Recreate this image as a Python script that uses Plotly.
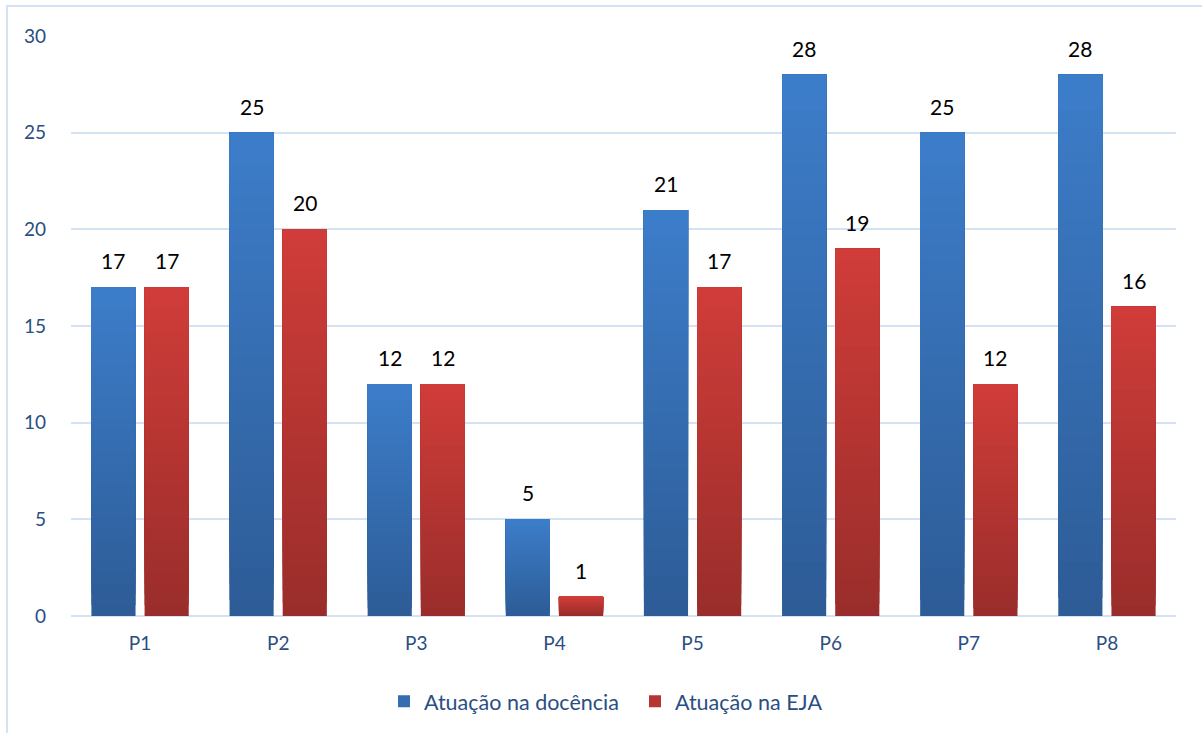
import plotly.graph_objects as go

categories = ["P1", "P2", "P3", "P4", "P5", "P6", "P7", "P8"]
docencia = [17, 25, 12, 5, 21, 28, 25, 28]
eja = [17, 20, 12, 1, 17, 19, 12, 16]
series_names = ["Atuação na docência", "Atuação na EJA"]
y_ticks = [0, 5, 10, 15, 20, 25, 30]

W, H = 1202, 733
ml, mr, mt, mb = 71, 26, 36, 116
# gradient colours (bottom, top) for each series
blue_grad = ((0x2D, 0x5C, 0x97), (0x3D, 0x7E, 0xCB))
red_grad = ((0x9A, 0x2D, 0x2B), (0xD1, 0x3D, 0x39))
tick_color = "#2A4E82"
grid_color = "#D5E2F3"
font_family = "Lato, 'Open Sans', sans-serif"
N = 30  # gradient steps


def mix(c0, c1, t):
    return "rgb(%d,%d,%d)" % tuple(round(a + (b - a) * t) for a, b in zip(c0, c1))


fig = go.Figure()
for name, vals, grad, grp in ((series_names[0], docencia, blue_grad, "a"),
                              (series_names[1], eja, red_grad, "b")):
    for k in range(N):
        frac = k / N
        base = [v * frac for v in vals]
        height = [v - b for v, b in zip(vals, base)]
        fig.add_trace(go.Bar(
            x=categories, y=height, base=base, name=name,
            offsetgroup=grp, legendgroup=grp,
            showlegend=(k == N // 2),
            marker=dict(color=mix(grad[0], grad[1], frac), line=dict(width=0)),
            hoverinfo="skip" if k else None,
        ))

bargap = 0.23
bargroupgap = 0.17
plot_w = W - ml - mr
cat_w = plot_w / len(categories)
slot = cat_w * (1 - bargap) / 2
shift = slot / 2

for vals, sgn in ((docencia, -1), (eja, 1)):
    for c, v in zip(categories, vals):
        fig.add_annotation(x=c, y=v, text=str(v), showarrow=False,
                           xshift=sgn * shift, yanchor="bottom", yshift=12,
                           font=dict(size=21, color="#000000", family=font_family))

# outer chart border (partially cut off like the reference)
plot_h = H - mt - mb
fig.add_shape(type="rect", xref="paper", yref="paper",
              x0=(7 - ml) / plot_w, x1=(W + 20 - ml) / plot_w,
              y0=-(H + 20 - (H - mb)) / plot_h, y1=(H - mb - 6) / plot_h,
              line=dict(color="#D5E2F3", width=2), fillcolor="rgba(0,0,0,0)", layer="below")

fig.update_layout(
    width=W, height=H,
    margin=dict(l=ml, r=mr, t=mt, b=mb),
    barmode="group", bargap=bargap, bargroupgap=bargroupgap,
    plot_bgcolor="white", paper_bgcolor="white",
    font=dict(family=font_family, color=tick_color),
    showlegend=True,
    legend=dict(orientation="h", x=(384 - ml) / plot_w, xanchor="left",
                y=-0.145, yanchor="middle",
                font=dict(size=21.5, color=tick_color), itemsizing="constant",
                traceorder="normal", itemwidth=30, entrywidth=206,
                entrywidthmode="pixels"),
    xaxis=dict(showgrid=False, showline=False, ticks="",
               tickfont=dict(size=19, color=tick_color), ticklabelstandoff=14),
    yaxis=dict(range=[0, 30], tickvals=y_ticks, showgrid=True, gridcolor=grid_color,
               gridwidth=1.5, zeroline=True, zerolinecolor=grid_color, zerolinewidth=1.5,
               showline=False, ticks="", tickfont=dict(size=19, color=tick_color),
               ticklabelstandoff=24),
)

fig.write_html("out.html")
